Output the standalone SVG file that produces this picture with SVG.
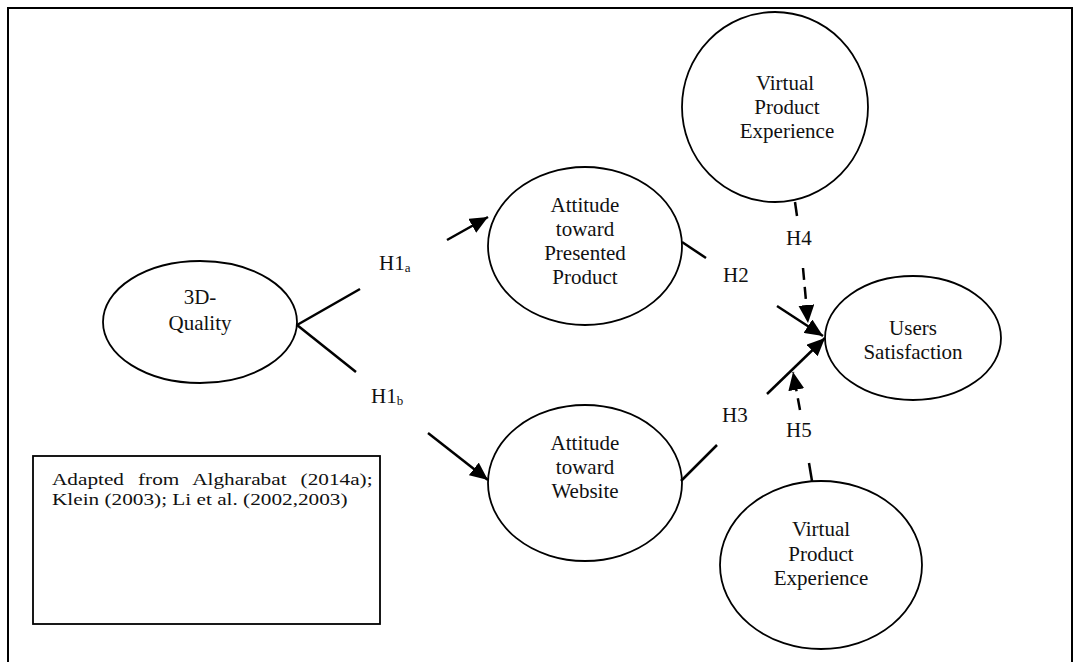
<svg xmlns="http://www.w3.org/2000/svg" width="1080" height="662" viewBox="0 0 1080 662">
<style>
.node{fill:#fff;stroke:#000;stroke-width:1.8}
.t{font-family:"Liberation Serif","Times New Roman",serif;font-size:21px;fill:#111;text-anchor:middle}
.lbl{font-family:"Liberation Serif","Times New Roman",serif;font-size:21px;fill:#111}
.sub{font-size:13px}
.c{stroke:#000;stroke-width:2.5;fill:none}
.d{stroke-dasharray:12 7}
.note{font-family:"Liberation Serif","Times New Roman",serif;font-size:17px;fill:#111}
</style>
<defs>
<marker id="ah" markerUnits="userSpaceOnUse" markerWidth="20" markerHeight="16" refX="18" refY="8" orient="auto">
<path d="M0,0 L18,8 L0,16 Z" fill="#000"/>
</marker>
</defs>
<rect x="8" y="8" width="1064" height="700" fill="#fff" stroke="#000" stroke-width="2"/>

<g id="n3d">
<ellipse class="node" cx="200" cy="322" rx="97" ry="61"/>
<text class="t" x="200" y="304">3D-</text>
<text class="t" x="200" y="330">Quality</text>
</g>
<g id="natp">
<ellipse class="node" cx="585" cy="246" rx="97" ry="79"/>
<text class="t" x="585" y="212">Attitude</text>
<text class="t" x="585" y="236">toward</text>
<text class="t" x="585" y="260">Presented</text>
<text class="t" x="585" y="284">Product</text>
</g>
<g id="natw">
<ellipse class="node" cx="585" cy="483" rx="97" ry="78"/>
<text class="t" x="585" y="450">Attitude</text>
<text class="t" x="585" y="474">toward</text>
<text class="t" x="585" y="498">Website</text>
</g>
<g id="nvpe1">
<ellipse class="node" cx="775" cy="107" rx="93" ry="95"/>
<text class="t" x="785" y="90">Virtual</text>
<text class="t" x="787" y="114">Product</text>
<text class="t" x="787" y="138">Experience</text>
</g>
<g id="nus">
<ellipse class="node" cx="913" cy="338" rx="88" ry="62"/>
<text class="t" x="913" y="335">Users</text>
<text class="t" x="913" y="359">Satisfaction</text>
</g>
<g id="nvpe2">
<ellipse class="node" cx="821" cy="565" rx="101" ry="84"/>
<text class="t" x="821" y="536">Virtual</text>
<text class="t" x="821" y="561">Product</text>
<text class="t" x="821" y="585">Experience</text>
</g>
<g id="note">
<rect x="33" y="456" width="347" height="168" fill="#fff" stroke="#000" stroke-width="1.8"/>
<g transform="translate(52,0) scale(1.25,1)">
<text class="note" x="0" y="485" word-spacing="7">Adapted from Algharabat (2014a);</text>
<text class="note" x="0" y="505">Klein (2003); Li et al. (2002,2003)</text>
</g>
</g>

<g id="connectors">
<line class="c" x1="297" y1="325" x2="360" y2="289"/>
<line class="c" x1="447" y1="240" x2="488" y2="217" marker-end="url(#ah)"/>
<line class="c" x1="297" y1="325" x2="356" y2="372"/>
<line class="c" x1="428" y1="433" x2="488" y2="480" marker-end="url(#ah)"/>
<line class="c" x1="682" y1="242" x2="706" y2="258"/>
<line class="c" x1="777" y1="306" x2="823" y2="336" marker-end="url(#ah)"/>
<line class="c" x1="681" y1="481" x2="717" y2="445"/>
<line class="c" x1="767" y1="394" x2="825" y2="338" marker-end="url(#ah)"/>
<line class="c" x1="795" y1="202" x2="797" y2="216"/>
<line class="c d" x1="803" y1="268" x2="808" y2="323" marker-end="url(#ah)"/>
<line class="c" x1="812" y1="481" x2="809" y2="463"/>
<line class="c d" x1="800" y1="410" x2="793" y2="372" marker-end="url(#ah)"/>
</g>
<g id="labels">
<text class="lbl" x="379" y="270">H1<tspan class="sub" dy="2">a</tspan></text>
<text class="lbl" x="371" y="403">H1<tspan class="sub" dy="2">b</tspan></text>
<text class="lbl" x="723" y="282">H2</text>
<text class="lbl" x="722" y="422">H3</text>
<text class="lbl" x="786" y="245">H4</text>
<text class="lbl" x="786" y="437">H5</text>
</g>
</svg>
